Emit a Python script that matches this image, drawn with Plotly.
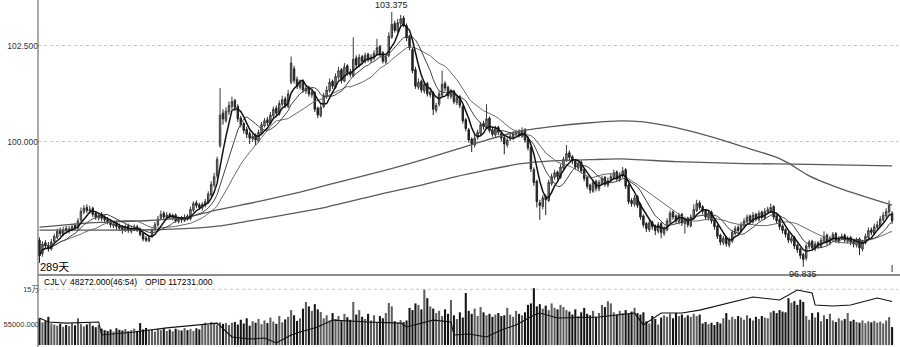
import plotly.graph_objects as go
import pandas as pd
import numpy as np

# ---------------- data ----------------
opens = [
    97.45, 97.10, 97.38, 97.32, 97.22, 97.42, 97.52, 97.70, 97.60, 97.75,
    97.68, 97.73, 97.83, 97.76, 97.97, 98.18, 98.30, 98.20, 98.28, 98.15,
    98.02, 98.12, 98.05, 97.99, 97.95, 97.82, 97.90, 97.82, 97.78, 97.70,
    97.82, 97.68, 97.74, 97.80, 97.74, 97.62, 97.50, 97.43, 97.54, 97.72,
    97.84, 98.02, 98.15, 98.03, 98.12, 98.02, 98.10, 97.93, 98.03, 97.96,
    98.08, 98.00, 98.23, 98.42, 98.37, 98.28, 98.36, 98.43, 98.62, 98.88,
    99.12, 99.90, 100.75, 100.55, 100.78, 100.92, 101.08, 100.92, 100.62, 100.48,
    100.33, 100.22, 100.08, 100.18, 100.02, 100.22, 100.42, 100.58, 100.48, 100.68,
    100.88, 100.72, 100.98, 101.12, 100.92, 101.55, 101.90, 101.62, 101.42, 101.58,
    101.32, 101.42, 101.22, 101.28, 100.88, 100.68, 100.92, 101.18, 101.33, 101.58,
    101.42, 101.68, 101.88, 101.58, 101.98, 101.82, 101.72, 102.18, 101.98, 102.22,
    102.08, 102.28, 102.12, 102.18, 102.28, 102.48, 102.32, 102.08, 102.25, 102.72,
    103.08, 102.88, 103.08, 103.22, 103.02, 102.72, 102.40, 101.88, 101.42, 101.58,
    101.32, 101.52, 101.22, 101.28, 100.82, 100.98, 101.22, 101.52, 101.42, 101.18,
    101.32, 101.02, 101.18, 100.92, 100.58, 100.32, 100.08, 99.92, 100.12, 100.22,
    100.48, 100.38, 100.62, 100.32, 100.18, 100.38, 100.22, 100.12, 99.92, 100.08,
    100.12, 100.22, 100.28, 100.15, 100.32, 100.08, 99.85, 99.28, 98.98, 98.42,
    98.32, 98.58, 98.48, 98.92, 99.08, 99.22, 99.08, 99.32, 99.52, 99.72,
    99.62, 99.52, 99.32, 99.48, 99.28, 99.08, 98.88, 98.72, 98.98, 98.78,
    98.92, 99.08, 98.88, 99.02, 99.08, 99.22, 99.02, 99.12, 99.28, 98.88,
    98.48, 98.38, 98.58, 98.38, 98.08, 97.88, 97.72, 97.92, 97.82, 97.68,
    97.88, 97.62, 97.72, 97.92, 98.18, 98.08, 97.92, 98.12, 97.88, 98.02,
    97.82, 98.02, 98.22, 98.42, 98.32, 98.22, 98.02, 98.18, 97.98, 97.82,
    97.58, 97.38, 97.52, 97.32, 97.42, 97.62, 97.78, 97.68, 97.82, 97.92,
    98.08, 97.92, 98.12, 97.98, 98.18, 98.02, 98.18, 98.22, 98.32, 98.08,
    97.98, 97.82, 97.72, 97.62, 97.42, 97.52, 97.32, 97.22, 97.08, 96.98,
    97.28, 97.42, 97.22, 97.38, 97.28, 97.42, 97.58, 97.38, 97.48, 97.62,
    97.42, 97.52, 97.58, 97.42, 97.52, 97.42, 97.32, 97.48, 97.22, 97.38,
    97.52, 97.72, 97.62, 97.78, 97.82, 97.98, 98.08, 98.18, 98.15,
]

highs = [
    97.52, 97.42, 97.45, 97.40, 97.48, 97.62, 97.75, 97.78, 97.80, 97.82,
    97.82, 97.88, 97.90, 98.02, 98.30, 98.36, 98.38, 98.34, 98.32, 98.20,
    98.16, 98.18, 98.10, 98.05, 98.00, 97.95, 97.96, 97.88, 97.84, 97.86,
    97.88, 97.82, 97.86, 97.85, 97.78, 97.66, 97.56, 97.58, 97.76, 97.92,
    98.08, 98.22, 98.20, 98.18, 98.16, 98.14, 98.14, 98.06, 98.08, 98.12,
    98.12, 98.32, 98.46, 98.48, 98.42, 98.44, 98.52, 98.72, 98.98, 99.20,
    99.62, 101.40, 100.85, 100.90, 101.05, 101.18, 101.12, 100.98, 100.68, 100.52,
    100.40, 100.28, 100.22, 100.22, 100.32, 100.52, 100.62, 100.65, 100.78, 100.92,
    100.95, 101.08, 101.20, 101.18, 101.35, 102.22, 101.98, 101.70, 101.62, 101.62,
    101.48, 101.46, 101.38, 101.32, 100.92, 100.98, 101.28, 101.45, 101.65, 101.62,
    101.78, 101.95, 101.92, 102.05, 102.02, 101.90, 102.72, 102.25, 102.28, 102.26,
    102.32, 102.32, 102.28, 102.38, 102.68, 102.52, 102.36, 102.28, 102.85, 103.375,
    103.15, 103.20, 103.30, 103.28, 103.08, 102.78, 102.45, 101.95, 101.65, 101.62,
    101.58, 101.56, 101.38, 101.32, 101.02, 101.32, 101.85, 101.58, 101.46, 101.38,
    101.36, 101.22, 101.22, 100.96, 100.62, 100.36, 100.12, 100.18, 100.32, 100.52,
    100.55, 100.98, 100.66, 100.38, 100.42, 100.42, 100.28, 100.16, 100.12, 100.22,
    100.28, 100.32, 100.33, 100.38, 100.36, 100.12, 99.90, 99.34, 99.02, 98.50,
    98.62, 98.64, 99.02, 99.18, 99.28, 99.26, 99.42, 99.62, 99.92, 99.78,
    99.66, 99.56, 99.52, 99.52, 99.32, 99.12, 98.92, 99.02, 99.02, 99.02,
    99.12, 99.12, 99.08, 99.18, 99.28, 99.26, 99.22, 99.35, 99.32, 98.92,
    98.54, 98.62, 98.62, 98.42, 98.12, 97.92, 97.98, 97.96, 97.86, 97.92,
    97.92, 97.82, 98.02, 98.22, 98.22, 98.12, 98.16, 98.16, 98.06, 98.06,
    98.12, 98.38, 98.50, 98.48, 98.36, 98.26, 98.22, 98.22, 98.02, 97.86,
    97.62, 97.56, 97.56, 97.52, 97.72, 97.82, 97.84, 97.92, 98.02, 98.12,
    98.12, 98.18, 98.16, 98.22, 98.22, 98.28, 98.32, 98.40, 98.36, 98.12,
    98.02, 97.86, 97.76, 97.66, 97.56, 97.56, 97.36, 97.26, 97.12, 97.36,
    97.46, 97.46, 97.42, 97.42, 97.52, 97.68, 97.62, 97.56, 97.66, 97.66,
    97.56, 97.62, 97.62, 97.56, 97.56, 97.48, 97.52, 97.52, 97.46, 97.62,
    97.78, 97.78, 97.88, 97.95, 98.08, 98.18, 98.28, 98.48, 98.20,
]

lows = [
    96.86, 97.02, 97.22, 97.15, 97.18, 97.38, 97.48, 97.55, 97.55, 97.64,
    97.62, 97.68, 97.72, 97.72, 97.93, 98.12, 98.15, 98.14, 98.05, 97.98,
    97.96, 97.95, 97.90, 97.86, 97.78, 97.76, 97.72, 97.70, 97.62, 97.66,
    97.64, 97.62, 97.68, 97.66, 97.55, 97.42, 97.40, 97.40, 97.50, 97.68,
    97.80, 97.98, 98.00, 97.98, 98.00, 97.96, 97.90, 97.88, 97.90, 97.92,
    97.96, 97.96, 98.18, 98.28, 98.24, 98.22, 98.30, 98.40, 98.58, 98.82,
    99.05, 99.85, 100.45, 100.50, 100.70, 100.85, 100.80, 100.52, 100.38, 100.22,
    100.10, 99.95, 100.00, 99.92, 99.98, 100.18, 100.38, 100.42, 100.44, 100.62,
    100.68, 100.68, 100.92, 100.88, 100.88, 101.50, 101.52, 101.38, 101.36, 101.28,
    101.25, 101.18, 101.15, 100.78, 100.62, 100.64, 100.88, 101.12, 101.28, 101.38,
    101.38, 101.62, 101.52, 101.55, 101.72, 101.68, 101.68, 101.92, 101.94, 102.02,
    102.04, 102.08, 102.06, 102.12, 102.24, 102.22, 102.04, 102.02, 102.20, 102.68,
    102.84, 102.84, 103.02, 102.98, 102.62, 102.38, 101.78, 101.38, 101.36, 101.28,
    101.26, 101.18, 101.15, 100.70, 100.76, 100.92, 101.18, 101.32, 101.12, 101.12,
    100.98, 100.96, 100.88, 100.48, 100.28, 99.98, 99.74, 99.86, 100.06, 100.18,
    100.32, 100.34, 100.24, 100.14, 100.12, 100.18, 100.02, 99.68, 99.86, 100.02,
    100.06, 100.16, 100.12, 100.10, 99.98, 99.78, 99.22, 98.86, 98.30, 97.98,
    98.25, 98.10, 98.44, 98.86, 99.02, 99.02, 99.04, 99.28, 99.48, 99.52,
    99.42, 99.28, 99.26, 99.18, 98.98, 98.78, 98.66, 98.68, 98.72, 98.72,
    98.88, 98.84, 98.82, 98.96, 99.02, 98.98, 98.96, 99.06, 98.78, 98.38,
    98.32, 98.32, 98.28, 97.98, 97.78, 97.66, 97.66, 97.72, 97.58, 97.62,
    97.50, 97.56, 97.68, 97.88, 97.98, 97.88, 97.86, 97.82, 97.62, 97.78,
    97.78, 97.98, 98.18, 98.24, 98.12, 97.98, 97.96, 97.88, 97.72, 97.48,
    97.32, 97.32, 97.28, 97.26, 97.38, 97.58, 97.62, 97.64, 97.78, 97.88,
    97.88, 97.88, 97.94, 97.94, 97.98, 97.98, 98.12, 98.16, 97.98, 97.88,
    97.72, 97.62, 97.52, 97.38, 97.36, 97.22, 97.12, 96.96, 96.835, 96.92,
    97.22, 97.18, 97.16, 97.22, 97.24, 97.38, 97.32, 97.32, 97.42, 97.38,
    97.36, 97.46, 97.38, 97.36, 97.32, 97.26, 97.26, 97.06, 97.16, 97.34,
    97.48, 97.58, 97.58, 97.72, 97.78, 97.92, 98.02, 98.12, 97.88,
]

closes = [
    97.05, 97.35, 97.30, 97.25, 97.40, 97.55, 97.68, 97.62, 97.72, 97.70,
    97.75, 97.80, 97.78, 97.95, 98.20, 98.28, 98.22, 98.25, 98.12, 98.05,
    98.10, 98.02, 97.98, 97.92, 97.85, 97.88, 97.80, 97.76, 97.72, 97.80,
    97.70, 97.75, 97.78, 97.72, 97.60, 97.48, 97.45, 97.52, 97.70, 97.85,
    98.00, 98.12, 98.05, 98.10, 98.05, 98.08, 97.95, 98.00, 97.98, 98.05,
    98.02, 98.25, 98.40, 98.35, 98.30, 98.38, 98.45, 98.65, 98.90, 99.10,
    99.55, 100.70, 100.60, 100.80, 100.95, 101.05, 100.90, 100.60, 100.45, 100.30,
    100.20, 100.10, 100.15, 100.05, 100.25, 100.45, 100.55, 100.50, 100.70, 100.85,
    100.75, 101.00, 101.10, 100.95, 101.25, 102.05, 101.60, 101.45, 101.55, 101.35,
    101.40, 101.25, 101.30, 100.85, 100.70, 100.90, 101.20, 101.35, 101.55, 101.45,
    101.70, 101.85, 101.60, 101.95, 101.80, 101.75, 102.15, 102.00, 102.20, 102.10,
    102.25, 102.15, 102.20, 102.30, 102.45, 102.30, 102.10, 102.20, 102.75, 103.05,
    102.90, 103.10, 103.20, 103.05, 102.70, 102.45, 101.85, 101.45, 101.55, 101.35,
    101.50, 101.25, 101.30, 100.85, 100.95, 101.25, 101.50, 101.40, 101.20, 101.30,
    101.05, 101.15, 100.95, 100.55, 100.35, 100.05, 99.95, 100.10, 100.25, 100.45,
    100.40, 100.60, 100.30, 100.20, 100.35, 100.25, 100.10, 99.95, 100.05, 100.15,
    100.20, 100.25, 100.18, 100.30, 100.05, 99.85, 99.30, 98.95, 98.45, 98.35,
    98.55, 98.50, 98.95, 99.10, 99.20, 99.10, 99.35, 99.55, 99.70, 99.60,
    99.50, 99.35, 99.45, 99.25, 99.05, 98.85, 98.75, 98.95, 98.80, 98.95,
    99.05, 98.90, 99.00, 99.10, 99.20, 99.05, 99.15, 99.25, 98.85, 98.45,
    98.40, 98.55, 98.35, 98.05, 97.85, 97.75, 97.90, 97.80, 97.70, 97.85,
    97.65, 97.75, 97.95, 98.15, 98.05, 97.95, 98.10, 97.90, 98.00, 97.85,
    98.05, 98.25, 98.40, 98.30, 98.20, 98.05, 98.15, 97.95, 97.80, 97.55,
    97.40, 97.50, 97.35, 97.45, 97.65, 97.75, 97.70, 97.85, 97.95, 98.05,
    97.95, 98.10, 98.00, 98.15, 98.05, 98.20, 98.25, 98.30, 98.05, 97.95,
    97.80, 97.70, 97.60, 97.45, 97.50, 97.30, 97.20, 97.05, 96.95, 97.30,
    97.40, 97.25, 97.35, 97.30, 97.45, 97.55, 97.40, 97.50, 97.60, 97.45,
    97.50, 97.55, 97.45, 97.50, 97.40, 97.35, 97.45, 97.25, 97.40, 97.55,
    97.70, 97.65, 97.80, 97.85, 98.00, 98.10, 98.20, 98.35, 97.95,
]

volume = [
    72000, 61000, 64000, 76000, 58000,
    55000, 52000, 57000, 49000, 54000, 51000, 58000, 53000, 72000, 56000, 50000, 55000, 60000, 52000, 48000, 54000,
    44000, 40000, 38000, 42000, 36000, 45000, 41000, 39000, 43000, 37000,
    40000, 44000, 38000, 59000, 42000, 46000, 39000, 41000, 36000, 43000,
    40000, 45000, 38000, 42000, 37000, 44000, 41000, 39000, 46000, 40000,
    43000, 38000, 45000, 42000,
    56000, 60000, 54000, 62000, 58000, 55000, 61000, 57000, 59000, 54000, 60000,
    62000, 55000, 68000, 58000, 72000, 52000, 64000, 60000, 70000, 56000, 66000, 59000,
    74000, 63000, 57000, 78000, 61000, 69000, 76000, 94000, 80000, 65000, 72000,
    98000, 116000, 104000, 92000, 110000, 96000, 89000,
    72000, 80000, 66000, 86000, 70000, 78000, 64000, 84000, 75000, 68000,
    116000, 82000,
    94000, 76000, 70000, 84000, 66000, 80000, 62000, 78000, 72000, 86000,
    113000, 104000,
    64000, 60000, 67000, 62000, 66000,
    100000, 94000, 112000, 108000, 96000, 150000, 126000, 104000, 98000,
    86000, 92000, 78000, 96000, 84000, 121000,
    80000, 70000, 88000, 74000,
    140000,
    92000, 84000, 98000, 78000, 102000, 88000, 80000,
    84000, 76000, 82000, 86000, 78000, 80000,
    100000, 82000, 76000, 92000, 84000, 80000, 88000,
    108000, 112000, 153000, 104000, 110000,
    98000, 106000, 94000, 112000, 100000, 96000, 108000, 102000, 94000,
    90000, 82000, 96000, 78000, 88000, 100000, 84000, 80000, 92000, 76000, 86000,
    108000, 102000, 118000, 112000,
    88000, 82000, 92000, 86000, 94000, 84000, 90000, 100000, 86000, 82000, 88000,
    64000, 58000, 78000, 70000, 55000, 74000,
    80000, 76000, 84000, 72000, 86000, 78000, 82000, 74000, 80000, 76000, 84000, 78000, 82000,
    58000, 62000, 56000, 60000, 54000, 62000, 58000,
    72000, 86000, 68000, 76000, 70000, 78000, 74000, 68000, 80000, 72000, 66000, 76000,
    70000, 78000, 74000, 72000,
    88000, 92000, 86000, 94000, 90000, 88000,
    126000, 114000, 118000, 108000, 122000, 116000,
    78000, 68000, 86000,
    74000, 88000, 64000, 80000, 70000, 84000, 66000,
    62000, 72000, 66000, 70000, 86000, 64000, 68000,
    62000, 60000, 66000, 59000, 64000, 61000, 65000, 60000, 63000, 58000, 66000, 75000,
    48272,
]

# open interest (OPID) line, sampled at the bars where it turns
opid_bar = [0, 3, 9, 20, 21, 32, 43, 54, 60, 65, 71, 76, 80, 85, 88, 94, 99, 111, 122, 124,
            133, 139, 140, 145, 151, 156, 161, 167, 169, 175, 184, 189, 201, 204, 210, 217,
            223, 234, 241, 250, 256, 261, 262, 268, 274, 283, 288]
opid_val = [72700, 62000, 59000, 62000, 27000, 35000, 46000, 54000, 59000, 21500, 16000, 19000,
            5400, 27000, 35000, 48500, 67000, 62000, 59000, 48500, 67000, 62000, 27000, 29600,
            21500, 40400, 54000, 80800, 86000, 72700, 75400, 75400, 86000, 54000, 86000, 86000,
            94000, 115800, 129300, 121200, 148100, 140000, 107700, 105000, 107700, 126600, 117231]

# two long moving averages (their earlier history is not in the window), sampled
long1_bar = [0, 17, 37, 50, 59, 75, 88, 97, 117, 129, 140, 151, 162, 173, 186, 196, 204, 215,
             227, 238, 249, 253, 260, 272, 288]
long1_val = [97.79, 97.90, 97.96, 98.05, 98.22, 98.47, 98.70, 98.88, 99.27, 99.53, 99.79, 100.05,
             100.28, 100.40, 100.50, 100.55, 100.52, 100.37, 100.13, 99.87, 99.60, 99.45, 99.12,
             98.75, 98.36]
long2_bar = [0, 20, 38, 54, 61, 71, 88, 97, 117, 129, 140, 151, 162, 173, 186, 196, 215, 238, 260, 288]
long2_val = [97.71, 97.71, 97.72, 97.77, 97.82, 97.95, 98.18, 98.31, 98.68, 98.88, 99.09, 99.27,
             99.43, 99.51, 99.54, 99.56, 99.49, 99.44, 99.42, 99.38]

price_ticks = [100.0, 102.5]
vol_ticks = [55000, 150000]
vol_ticktext = ["55000.000", "15万"]
session_time = "46:54"

assert len(opens) == len(highs) == len(lows) == len(closes) == len(volume)

# ---------------- figure ----------------
W, H = 900, 347
FONT = "Liberation Sans, Arial, Noto Sans CJK SC, sans-serif"
n = len(closes)
idx = list(range(n))
cs = pd.Series(closes)
ma5 = cs.rolling(5, min_periods=1).mean()
ma10 = cs.rolling(10, min_periods=1).mean()
ma20 = cs.rolling(20, min_periods=1).mean()

x_dom = [38 / W, 898 / W]
main_dom = [1 - 275 / H, 1.0]
vol_dom = [1 - 345 / H, 1 - 276 / H]

fig = go.Figure()
fig.add_trace(go.Candlestick(
    x=idx, open=opens, high=highs, low=lows, close=closes,
    increasing=dict(line=dict(color="#3a3a3a", width=1), fillcolor="#8a8a8a"),
    decreasing=dict(line=dict(color="#232323", width=1), fillcolor="#232323"),
    whiskerwidth=0, xaxis="x", yaxis="y", hoverinfo="skip", showlegend=False))

for xs, ys, col, wd, shp in [
    (long1_bar, long1_val, "#5a5a5a", 1.3, "spline"),
    (long2_bar, long2_val, "#5a5a5a", 1.3, "spline"),
    (idx, ma20, "#6a6a6a", 1.0, "linear"),
    (idx, ma10, "#444444", 1.0, "linear"),
    (idx, ma5, "#111111", 1.5, "linear"),
]:
    fig.add_trace(go.Scatter(x=xs, y=ys, mode="lines",
                             line=dict(color=col, width=wd, shape=shp, smoothing=0.6),
                             xaxis="x", yaxis="y", hoverinfo="skip", showlegend=False))

vol_colors = ["#5e5e5e" if c >= o else "#151515" for o, c in zip(opens, closes)]
fig.add_trace(go.Bar(x=idx, y=volume, marker=dict(color=vol_colors, line=dict(width=0)),
                     xaxis="x2", yaxis="y2", hoverinfo="skip", showlegend=False))
fig.add_trace(go.Scatter(x=opid_bar, y=opid_val, mode="lines",
                         line=dict(color="#111111", width=1.1),
                         xaxis="x2", yaxis="y2", hoverinfo="skip", showlegend=False))

tickfont = dict(family=FONT, size=8.5, color="#333333")
voltickfont = dict(family=FONT, size=7.5, color="#333333")
fig.update_layout(
    width=W, height=H, margin=dict(l=0, r=0, t=0, b=0),
    paper_bgcolor="white", plot_bgcolor="white", showlegend=False, bargap=0.3,
    xaxis=dict(domain=x_dom, range=[-0.5, 290], showticklabels=False, showgrid=False,
               zeroline=False, showline=False, ticks="", anchor="y",
               rangeslider=dict(visible=False)),
    xaxis2=dict(domain=x_dom, range=[-0.5, 290], matches="x", showticklabels=False,
                showgrid=False, zeroline=False, showline=False, ticks="", anchor="y2"),
    yaxis=dict(domain=main_dom, range=[96.545, 103.688], tickvals=price_ticks,
               ticktext=[f"{v:.3f}" for v in price_ticks], showgrid=True,
               gridcolor="#c4c4c4", griddash="dot", gridwidth=1, zeroline=False,
               showline=False, ticks="", tickfont=tickfont, anchor="x", automargin=False,
               ticklabelstandoff=-1),
    yaxis2=dict(domain=vol_dom, range=[0, 185800], tickvals=vol_ticks, ticktext=vol_ticktext,
                showgrid=False, zeroline=False, showline=False, ticks="", tickfont=voltickfont,
                anchor="x2", automargin=False, ticklabelstandoff=-2),
)

shapes = [
    dict(type="line", xref="paper", yref="paper", x0=38 / W, x1=38 / W, y0=0, y1=1,
         line=dict(color="#555555", width=1)),
    dict(type="line", xref="paper", yref="paper", x0=38 / W, x1=1, y0=1 - 275 / H, y1=1 - 275 / H,
         line=dict(color="#8c8c8c", width=2)),
    dict(type="line", xref="paper", yref="y2", x0=38 / W, x1=898 / W, y0=vol_ticks[1], y1=vol_ticks[1],
         line=dict(color="#c4c4c4", width=1, dash="dot")),
    dict(type="line", xref="x", yref="paper", x0=n - 1, x1=n - 1, y0=1 - 272 / H, y1=1 - 265 / H,
         line=dict(color="#333333", width=1)),
]
fig.update_layout(shapes=shapes)

i_hi = int(np.argmax(highs))
i_lo = int(np.argmin(lows))
small = dict(family=FONT, size=9, color="#222")
hdr = dict(family=FONT, size=8.5, color="#000")
ann = [
    dict(x=i_hi, y=highs[i_hi], xref="x", yref="y", text=f"{highs[i_hi]:.3f}",
         showarrow=False, yanchor="bottom", yshift=0, font=small),
    dict(x=i_lo, y=lows[i_lo], xref="x", yref="y", text=f"{lows[i_lo]:.3f}",
         showarrow=True, arrowhead=0, arrowwidth=1, arrowcolor="#333", ax=0, ay=3,
         yanchor="top", font=small),
    dict(x=38 / W, y=1 - 267 / H, xref="paper", yref="paper", text=f"{n}天",
         showarrow=False, xanchor="left", yanchor="middle",
         font=dict(family=FONT, size=11, color="#000")),
    dict(x=42 / W, y=1 - 282 / H, xref="paper", yref="paper", text="CJL∨",
         showarrow=False, xanchor="left", yanchor="middle", font=hdr),
    dict(x=68 / W, y=1 - 282 / H, xref="paper", yref="paper",
         text=f"{volume[-1]:.3f}({session_time})",
         showarrow=False, xanchor="left", yanchor="middle", font=hdr),
    dict(x=143 / W, y=1 - 282 / H, xref="paper", yref="paper",
         text=f"OPID {opid_val[-1]:.3f}",
         showarrow=False, xanchor="left", yanchor="middle", font=hdr),
]
fig.update_layout(annotations=ann)

fig.write_html("out.html")
